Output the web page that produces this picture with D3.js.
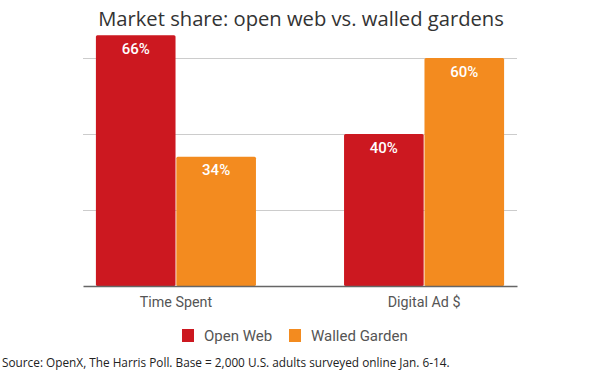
<!DOCTYPE html>
<html>
<head>
<meta charset="utf-8">
<script src="https://cdn.jsdelivr.net/npm/d3@7"></script>
<style>
  body { margin: 0; background: #fff; }
  svg { display: block; }
</style>
</head>
<body>
<svg id="chart"></svg>
<script>
// chart data
const categories = ["Time Spent", "Digital Ad $"];
const seriesNames = ["Open Web", "Walled Garden"];
const openWeb = [66, 40];
const walledGarden = [34, 60];
const gridTicks = [0, 20, 40, 60];
const colors = ["#cc1820", "#f38b1f"];

const width = 600, height = 375;
const margin = { top: 0, left: 83, right: 83, baseline: 286 };

const svg = d3.select("#chart")
    .attr("width", width)
    .attr("height", height);

// Title
svg.append("text")
    .attr("x", 301)
    .attr("y", 26)
    .attr("text-anchor", "middle")
    .style("font-family", "'Open Sans', sans-serif")
    .style("font-size", "20.2px")
    .style("fill", "#333")
    .text("Market share: open web vs. walled gardens");

// Scales
const y = d3.scaleLinear()
    .domain([0, 60])
    .range([margin.baseline, 58]);

const x0 = d3.scaleBand()
    .domain(categories)
    .range([margin.left, width - margin.right])
    .paddingInner(0.355)
    .paddingOuter(0.052);

const x1 = d3.scaleBand()
    .domain(seriesNames)
    .range([0, x0.bandwidth()])
    .paddingInner(0.01);

// Gridlines
svg.append("g")
    .selectAll("line")
    .data(gridTicks.filter(d => d > 0))
    .enter().append("line")
    .attr("x1", margin.left)
    .attr("x2", width - margin.right)
    .attr("y1", d => y(d) + 0.5)
    .attr("y2", d => y(d) + 0.5)
    .attr("stroke", "#cccccc")
    .attr("stroke-width", 1);

// Bars
const rows = categories.map((c, i) => ({
    cat: c,
    values: [
        { name: seriesNames[0], value: openWeb[i] },
        { name: seriesNames[1], value: walledGarden[i] }
    ]
}));

const groups = svg.selectAll(".group")
    .data(rows)
    .enter().append("g")
    .attr("class", "group")
    .attr("transform", d => `translate(${x0(d.cat)},0)`);

groups.selectAll("rect")
    .data(d => d.values)
    .enter().append("rect")
    .attr("x", d => x1(d.name))
    .attr("y", d => y(d.value))
    .attr("width", x1.bandwidth())
    .attr("height", d => y(0) - y(d.value))
    .attr("rx", 1.5)
    .attr("fill", (d, i) => colors[i]);

groups.selectAll(".val")
    .data(d => d.values)
    .enter().append("text")
    .attr("class", "val")
    .attr("x", d => x1(d.name) + x1.bandwidth() / 2)
    .attr("y", d => y(d.value) + 18.5)
    .attr("text-anchor", "middle")
    .style("font-family", "Roboto, sans-serif")
    .style("font-size", "15px")
    .style("font-weight", "500")
    .style("fill", "#fff")
    .text(d => d.value + "%");

// Baseline axis
const xAxis = svg.append("g")
    .attr("transform", `translate(0,${margin.baseline})`)
    .call(d3.axisBottom(x0).tickSize(0).tickPadding(11));

xAxis.select(".domain")
    .attr("stroke", "#666")
    .attr("stroke-width", 1.5);

xAxis.selectAll("text")
    .style("font-family", "Roboto, sans-serif")
    .style("font-size", "14.3px")
    .style("fill", "#555");

// Legend
const legendItems = [
    { name: seriesNames[0], color: colors[0], x: 182 },
    { name: seriesNames[1], color: colors[1], x: 289 }
];

const legend = svg.append("g");
legend.selectAll("rect")
    .data(legendItems)
    .enter().append("rect")
    .attr("x", d => d.x)
    .attr("y", 329)
    .attr("width", 12)
    .attr("height", 13)
    .attr("fill", d => d.color);

legend.selectAll("text")
    .data(legendItems)
    .enter().append("text")
    .attr("x", d => d.x + 22)
    .attr("y", 341)
    .style("font-family", "Roboto, sans-serif")
    .style("font-size", "15px")
    .style("fill", "#555")
    .text(d => d.name);

// Source note
svg.append("text")
    .attr("x", 2)
    .attr("y", 367)
    .style("font-family", "'Open Sans', sans-serif")
    .style("font-size", "11.8px")
    .style("fill", "#222")
    .text("Source: OpenX, The Harris Poll. Base = 2,000 U.S. adults surveyed online Jan. 6-14.");
</script>
</body>
</html>
